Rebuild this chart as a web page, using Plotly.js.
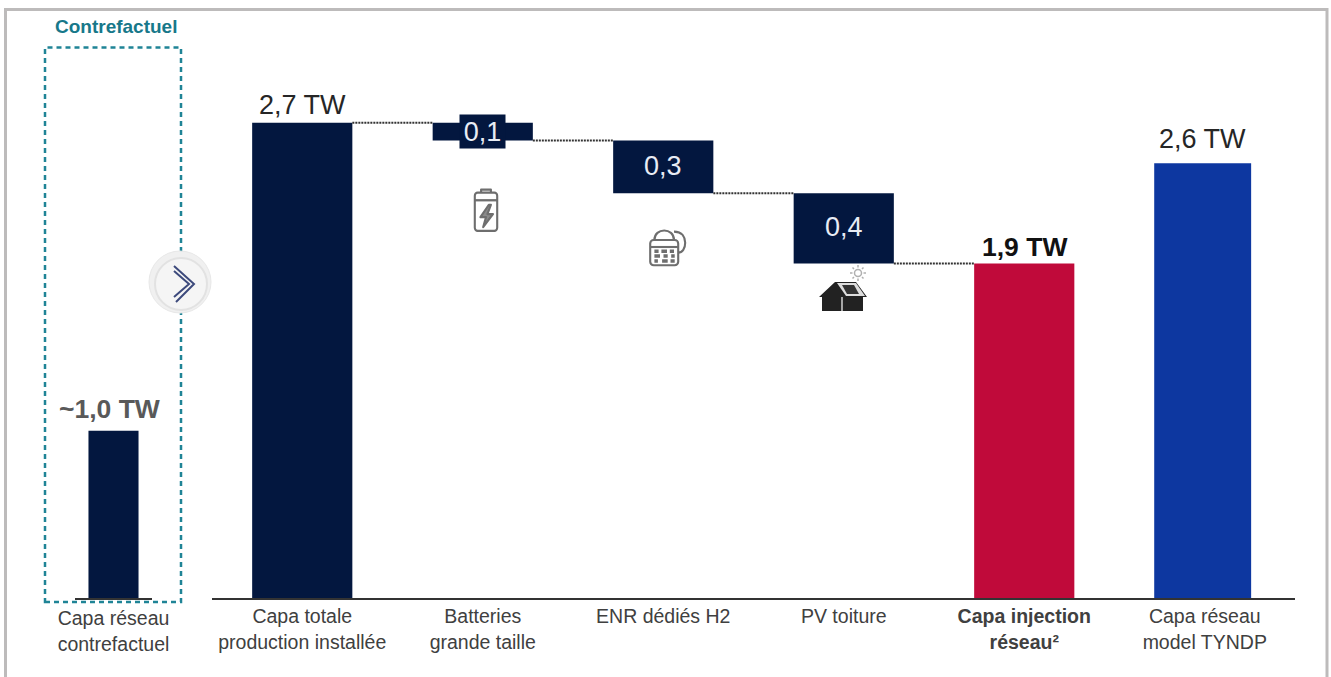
<!DOCTYPE html>
<html lang="fr">
<head>
<meta charset="utf-8">
<script src="https://cdn.plot.ly/plotly-3.0.1.min.js"></script>
<style>html,body{margin:0;padding:0;background:#fff}#chart{width:1331px;height:677px}</style>
</head>
<body>
<div id="chart"></div>
<script>
// Bilan de capacité (TW)
const mainCategories = ['Capa totale<br>production installée', 'Batteries<br>grande taille', 'ENR dédiés H2', 'PV toiture', '<b>Capa injection<br>réseau²</b>'];
const totalStart = 2.7;
const reductions = [0.1, 0.3, 0.4];
const injection = 1.9;
const modelCategory = 'Capa réseau<br>model TYNDP';
const modelValue = 2.6;
const counterCategory = 'Capa réseau<br>contrefactuel';
const counterValue = 1.0;

const W = 1331, H = 677, BASE = 598, TOP = 20;
const NAVY = '#03173f', RED = '#c00a3a', BLUE = '#0d37a0', TEAL = '#1f8496';
const FONT = '"Liberation Sans", Arial, sans-serif';
const comma = v => v.toFixed(1).replace('.', ',');
const px = x => x / W, py = y => 1 - y / H;

// Positions de la cascade, calculées à partir des réductions
const levels = [totalStart];
reductions.forEach(r => levels.push(+(levels[levels.length - 1] - r).toFixed(3)));
const barW = 0.555;

const allCats = mainCategories.concat([modelCategory]);
const traces = [
  { type: 'bar', x: [0], y: [totalStart], width: barW, marker: { color: NAVY } },
  { type: 'bar', x: reductions.map((_, i) => i + 1), y: reductions, base: levels.slice(1), width: barW, marker: { color: NAVY } },
  { type: 'bar', x: [4], y: [injection], width: barW, marker: { color: RED } },
  { type: 'bar', x: [5], y: [modelValue], yaxis: 'y2', width: 0.537, offset: -0.28, marker: { color: BLUE } },
  { type: 'bar', x: [0], y: [counterValue], xaxis: 'x2', yaxis: 'y2', width: 0.65, marker: { color: NAVY } }
];

// Liaisons pointillées entre les marches
levels.forEach((lv, i) => {
  traces.push({
    type: 'scatter', mode: 'lines', x: [i + barW / 2, i + 1 - barW / 2], y: [lv, lv],
    line: { color: '#333333', width: 2, dash: '2px,1px' }, hoverinfo: 'skip'
  });
});

const textColor = '#262626';
const annotations = [
  { x: 0, y: totalStart, text: comma(totalStart) + ' TW', font: { size: 27, color: textColor, family: FONT }, yanchor: 'bottom', yshift: 1 },
  { x: 4, y: injection, text: '<b>' + comma(injection) + ' TW</b>', font: { size: 26.5, color: '#111', family: FONT }, yanchor: 'bottom', yshift: 0 },
  { x: 5, xshift: -2, y: modelValue, yref: 'y2', text: comma(modelValue) + ' TW', font: { size: 27, color: textColor, family: FONT }, yanchor: 'bottom', yshift: 7 },
  { x: 0, xref: 'x2', y: counterValue, yref: 'y2', xshift: -4, text: '<b>~' + comma(counterValue) + ' TW</b>', font: { size: 26.5, color: '#595959', family: FONT }, yanchor: 'bottom', yshift: 5 },
  { x: px(116), y: py(26), xref: 'paper', yref: 'paper', text: '<b>Contrefactuel</b>', font: { size: 19, color: '#17788a', family: FONT }, yanchor: 'middle' }
].map(a => Object.assign({ xref: 'x', yref: 'y', showarrow: false, xanchor: 'center' }, a));

// Valeurs des réductions dans les barres
reductions.forEach((r, i) => {
  const small = r < 0.2;
  annotations.push(Object.assign({
    x: i + 1, y: levels[i + 1] + r / 2, xref: 'x', yref: 'y', showarrow: false,
    text: comma(r), font: { size: 27, color: '#e8ecf4', family: FONT }, yshift: small ? 0 : 1
  }, small ? { bgcolor: NAVY, width: 45, height: 33, borderpad: 0 } : {}));
});

const svg = (vb, s) => 'data:image/svg+xml;charset=utf-8,' + encodeURIComponent(`<svg xmlns="http://www.w3.org/2000/svg" viewBox="0 0 ${vb}">${s}</svg>`);
const grayIcon = 'fill="none" stroke="#6e6e6e" stroke-width="3" stroke-linejoin="round"';
const batteryIcon = svg('60 60',
  `<g ${grayIcon}><rect x="14" y="6" width="32" height="50" rx="4"/><path d="M23 6V2h14v4"/>` +
  `<path d="M14 16h32"/><path d="M34 22 22 38h8l-4 13 14-17h-8l5-12z" fill="#8a8a8a"/></g>`);
const fuelIcon = svg('60 60',
  `<g ${grayIcon}><rect x="6" y="20" width="40" height="36" rx="5"/><path d="M12 20c0-18 28-18 28 0"/>` +
  `<path d="M40 8c12 0 16 8 16 16s-4 14-10 14"/><path d="M6 30h40"/>` +
  `<path d="M12 36h6M22 36h8M34 36h6M12 43h8M25 43h6M36 43h5M12 50h5M23 50h8M35 50h6" stroke-width="5"/></g>`);
const roofIcon = svg('50 48',
  `<path d="M1 32 17 17H38L49 32H45V46H4V32Z" fill="#222222"/>` +
  `<path d="M19 18H38L47 31H28Z" fill="#dddddd"/>` +
  `<path d="M24 20H36L41 29H29Z" fill="#333333"/><path d="M24 32V46" stroke="#ffffff" stroke-width="1.2"/>` +
  `<g stroke="#b0b0b0" stroke-width="1.5" fill="none"><circle cx="40" cy="8" r="3.5"/>` +
  `<path d="M40 0V2.5M40 13.5V16M32 8H34.5M45.500 8H48M34.500 2.500 36 4M44 12 45.500 13.500M34.500 13.500 36 12M44 4 45.500 2.500"/></g>`);
const icon = (source, x, y, w, h) => ({
  source, xref: 'paper', yref: 'paper', x: px(x), y: py(y), sizex: w / W, sizey: h / H,
  xanchor: 'left', yanchor: 'top', sizing: 'stretch', layer: 'above'
});

const circle = (cx, cy, r, fill, color, width) => ({
  type: 'circle', xref: 'paper', yref: 'paper',
  x0: px(cx - r), x1: px(cx + r), y0: py(cy - r), y1: py(cy + r),
  fillcolor: fill, line: { color, width }, layer: 'above'
});
const polyline = (pts, color, width) => ({
  type: 'path', xref: 'paper', yref: 'paper',
  path: 'M' + pts.map(p => px(p[0]) + ',' + py(p[1])).join('L'),
  line: { color, width }, layer: 'above'
});

const shapes = [
  // Cadre extérieur de la diapositive
  polyline([[5.5, 677], [5.5, 9.5], [1327, 9.5], [1327, 677]], '#bdbbbb', 3),
  // Encadré du contrefactuel
  { type: 'rect', xref: 'paper', yref: 'paper', x0: px(45), x1: px(181), y0: py(602), y1: py(47.5),
    line: { color: TEAL, width: 2.5, dash: '5px,4px' }, fillcolor: 'rgba(0,0,0,0)', layer: 'below' },
  // Pastille avec chevrons
  circle(180, 282, 31, '#f0f0f0', '#e8e8e8', 1),
  circle(181, 284, 26, '#f5f5f5', '#e2e2e2', 2),
  polyline([[174, 266], [194, 284], [176, 302]], '#3d4a7c', 2),
  polyline([[174, 271], [189, 284], [174, 297]], '#3d4a7c', 2)
];

const tickfont = { size: 19.5, color: '#404040', family: FONT };
const layout = {
  width: W, height: H, margin: { l: 0, r: 0, t: 0, b: 0 }, autosize: false,
  paper_bgcolor: '#fff', plot_bgcolor: 'rgba(0,0,0,0)', showlegend: false, barmode: 'overlay',
  font: { family: FONT },
  xaxis: {
    domain: [px(212), px(1295)], range: [-0.5, 5.5], fixedrange: true,
    tickmode: 'array', tickvals: [0, 1, 2, 3, 4, 5], ticktext: allCats,
    tickfont, ticks: '', ticklen: 0, ticklabelstandoff: 0,
    showline: true, linecolor: '#333333', linewidth: 2, showgrid: false, zeroline: false
  },
  xaxis2: {
    domain: [px(75), px(152)], range: [-0.5, 0.5], fixedrange: true, anchor: 'y2',
    tickmode: 'array', tickvals: [0], ticktext: [counterCategory],
    tickfont, ticks: '', ticklabelstandoff: 2,
    showline: true, linecolor: '#333333', linewidth: 2, showgrid: false, zeroline: false
  },
  yaxis: {
    domain: [py(BASE), py(TOP)], range: [0, (BASE - TOP) / 176], visible: false, fixedrange: true
  },
  yaxis2: {
    domain: [py(BASE), py(TOP)], range: [0, (BASE - TOP) / 167.2], visible: false, fixedrange: true,
    overlaying: 'y'
  },
  annotations, shapes,
  images: [icon(batteryIcon, 465, 188, 42, 46), icon(fuelIcon, 646, 226, 42, 42), icon(roofIcon, 818, 265, 50, 48)]
};

Plotly.newPlot('chart', traces, layout, { staticPlot: true, displayModeBar: false });
</script>
</body>
</html>
